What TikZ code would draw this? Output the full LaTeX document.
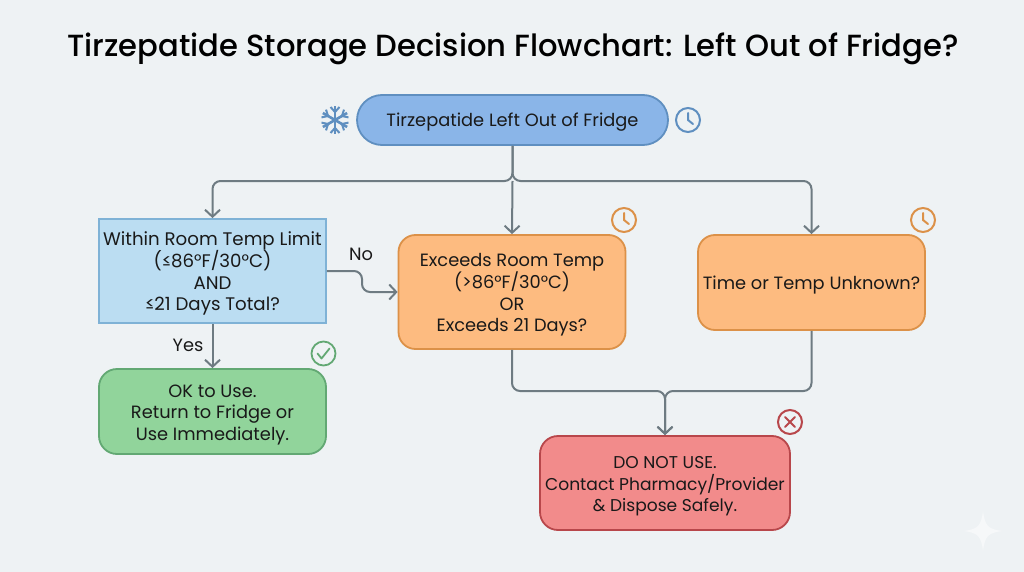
\documentclass[tikz,border=0pt]{standalone}
\usepackage{fontspec}
\setmainfont{Poppins}
\newfontfamily\titlefont{Poppins Medium}
\usetikzlibrary{arrows.meta}
\definecolor{pagebg}{HTML}{EEF2F4}
\definecolor{flowgray}{HTML}{6E7B82}
\definecolor{startfill}{HTML}{8AB5E8}
\definecolor{startline}{HTML}{5F8FC0}
\definecolor{limitfill}{HTML}{BBDDF2}
\definecolor{limitline}{HTML}{7FB2D6}
\definecolor{okfill}{HTML}{91D49B}
\definecolor{okline}{HTML}{62A873}
\definecolor{warnfill}{HTML}{FDBB80}
\definecolor{warnline}{HTML}{DC9148}
\definecolor{stopfill}{HTML}{F28B8B}
\definecolor{stopline}{HTML}{B8474B}
\tikzset{
  box/.style={draw, line width=1.8pt, align=center, inner sep=0pt, text=black!90,
    font=\fontsize{17.8}{21.3}\selectfont,
    execute at begin node={\rule{0pt}{18pt}},
    execute at end node={\rule[-5pt]{0pt}{5pt}}},
  stacked/.style={execute at begin node={\rule{0pt}{#1}}},
  startbox/.style={box, draw=startline, fill=startfill, rounded corners=25pt, minimum width=311pt, minimum height=50pt},
  limitbox/.style={box, stacked=84pt, draw=limitline, fill=limitfill, minimum width=227pt, minimum height=104pt, font=\fontsize{18.2}{21.3}\selectfont},
  okbox/.style={box, stacked=62pt, draw=okline, fill=okfill, rounded corners=18pt, minimum width=227pt, minimum height=85pt},
  warnbox/.style={box, draw=warnline, fill=warnfill, rounded corners=17pt, minimum width=227pt},
  stopbox/.style={box, stacked=62pt, draw=stopline, fill=stopfill, rounded corners=18pt, minimum width=250pt, minimum height=94pt, font=\fontsize{17.1}{21.3}\selectfont},
  flow/.style={draw=flowgray, line width=2pt, rounded corners=8pt},
  flowto/.style={flow, -{Straight Barb[length=7pt,width=15pt,line width=2pt]}},
  edgelabel/.style={inner sep=0pt, text=black!90, font=\fontsize{17.8}{21}\selectfont},
  clockicon/.pic={
    \draw[line width=2pt, pic actions] (0,0) circle (12);
    \draw[line width=2pt, line cap=round, pic actions] (0,-7) -- (0,0) -- (5,4);
  },
  checkicon/.pic={
    \draw[line width=1.8pt, pic actions] (0,0) circle (12);
    \draw[line width=1.8pt, line cap=round, line join=round, pic actions] (-6,0) -- (-2,5) -- (6,-5);
  },
  crossicon/.pic={
    \draw[line width=2pt, pic actions] (0,0) circle (12);
    \draw[line width=2pt, line cap=round, pic actions] (-5,-5) -- (5,5) (-5,5) -- (5,-5);
  },
}
\begin{document}
\begin{tikzpicture}[x=1pt,y=-1pt]
\fill[pagebg] (0,0) rectangle (1024,572);
\useasboundingbox (0,0) rectangle (1024,572);
\node[inner sep=0pt, text=black, font=\fontsize{30.6}{36}\titlefont] (title) at (513,49) {Tirzepatide Storage Decision Flowchart: Left Out of Fridge?};
% boxes
\node[startbox] (start) at (512.5,120) {Tirzepatide Left Out of Fridge};
\node[limitbox] (limit) at (212.5,271) {Within Room Temp Limit\\(≤86°F/30°C)\\AND\\≤21 Days Total?};
\node[okbox] (ok) at (212.5,411.5) {OK to Use.\\Return to Fridge or\\Use Immediately.};
\node[warnbox, stacked=84pt, minimum height=114pt] (exceed) at (512,292) {Exceeds Room Temp\\(>86°F/30°C)\\OR\\Exceeds 21 Days?};
\node[warnbox, minimum height=95pt] (unknown) at (811.5,282.5) {Time or Temp Unknown?};
\node[stopbox] (stop) at (665,483) {DO NOT USE.\\Contact Pharmacy/Provider\\\& Dispose Safely.};
% joints
\coordinate (split) at (512.5,181);
\coordinate (merge) at (665,391);
\coordinate (elbow) at (362,292);
\draw[flowto] (start.south) -- (split) -| (limit.north);
\draw[flowto] (start.south) -- (split) -| (unknown.north);
\draw[flowto] (split) -- (exceed.north);
\draw[flowto] (limit.south) -- (ok.north);
\draw[flowto] (limit.east) -| (elbow) -- (exceed.west);
\draw[flowto] (exceed.south) |- (merge) -- (stop.north);
\draw[flowto] (unknown.south) |- (merge) -- (stop.north);
\node[edgelabel] (nolabel) at (361,254) {No};
\node[edgelabel] (yeslabel) at (188,345) {Yes};
% icons
\pic[draw=startline] at (688,120) {clockicon};
\pic[draw=warnline] at (624,220) {clockicon};
\pic[draw=warnline] at (923,220) {clockicon};
\pic[draw=okline] at (323.5,353.5) {checkicon};
\pic[draw=stopline] at (790,422) {crossicon};
\foreach \a in {30,90,...,330}{
  \begin{scope}[shift={(335,120)}, rotate=\a]
    \draw[startline, line width=2.6pt] (0,0) -- (14,0);
    \draw[startline, line width=2pt] (13,-4.5) -- (8,0) -- (13,4.5);
  \end{scope}
}
% sparkle
\fill[white!45!pagebg] (983,511) .. controls (985,526) and (988,529) .. (1002,531) .. controls (988,533) and (985,536) .. (983,551) .. controls (981,536) and (978,533) .. (964,531) .. controls (978,529) and (981,526) .. (983,511) -- cycle;
\end{tikzpicture}
\end{document}
